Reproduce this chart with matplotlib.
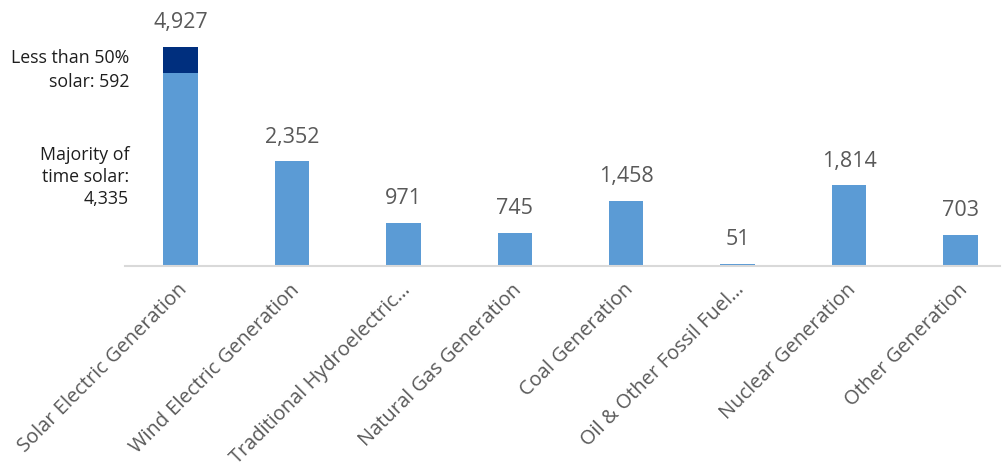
import numpy as np
import matplotlib.pyplot as plt
import matplotlib.transforms as mtransforms

plt.rcParams['font.family'] = ['Open Sans', 'DejaVu Sans']

categories = ['Solar Electric Generation', 'Wind Electric Generation',
              'Traditional Hydroelectric\u2026', 'Natural Gas Generation',
              'Coal Generation', 'Oil & Other Fossil Fuel\u2026',
              'Nuclear Generation', 'Other Generation']
totals = [4927, 2352, 971, 745, 1458, 51, 1814, 703]
solar_majority = 4335
solar_minority = 592

light = '#5B9BD5'
dark = '#002F7E'
grey = '#595959'

fig = plt.figure(figsize=(10.07, 4.70), dpi=100)
ax = fig.add_axes([0.124, 0.434, 0.869, 0.566])

x = np.arange(len(categories))
base = list(totals)
base[0] = solar_majority
ax.bar(x, base, width=0.31, color=light)
ax.bar(x[0], solar_minority, bottom=solar_majority, width=0.31, color=dark)

for xi, v in zip(x, totals):
    ax.annotate(f'{v:,}', (xi, v), xytext=(0, 10), textcoords='offset points',
                ha='center', va='bottom', fontsize=15.5, color=grey)

ax.annotate(f'Less than 50%\nsolar: {solar_minority}', (x[0], 4410),
            xytext=(-37, 0), textcoords='offset points', ha='right', va='center',
            fontsize=12.8, color='#1E1E1E', linespacing=1.38)
ax.annotate(f'Majority of\ntime solar:\n{solar_majority:,}', (x[0], 2000),
            xytext=(-37, 0), textcoords='offset points', ha='right', va='center',
            fontsize=12.8, color='#1E1E1E', linespacing=1.28)

ax.set_xlim(-0.5, 7.355)
ax.set_ylim(0, 5985)
ax.set_xticks(x)
ax.set_xticklabels(categories, rotation=45, ha='right', va='top',
                   rotation_mode='anchor', fontsize=14.4, color=grey)
ax.tick_params(axis='x', length=0, pad=10)
shift = mtransforms.ScaledTranslation(-3 / 100, 0, fig.dpi_scale_trans)
for lbl in ax.get_xticklabels():
    lbl.set_transform(lbl.get_transform() + shift)
ax.set_yticks([])
for s in ['top', 'right', 'left']:
    ax.spines[s].set_visible(False)
ax.spines['bottom'].set_color('#D9D9D9')
ax.spines['bottom'].set_linewidth(1.5)

fig.savefig('out.png', dpi=100)
